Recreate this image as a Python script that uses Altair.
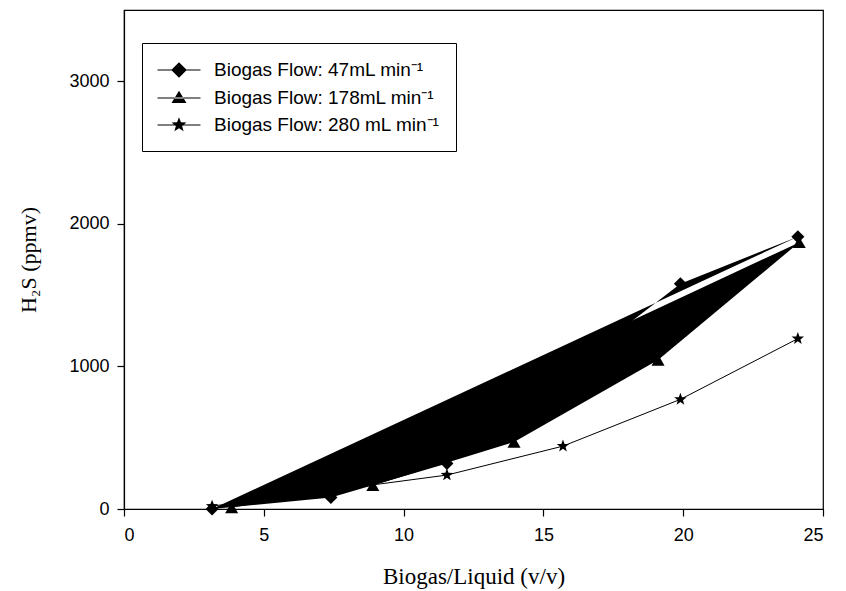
import math
import altair as alt
import pandas as pd

series_names = ["Biogas Flow: 47mL min⁻¹", "Biogas Flow: 178mL min⁻¹", "Biogas Flow: 280 mL min⁻¹"]
x_47 = [3.15, 7.4, 11.55, 19.9, 24.1]
y_47 = [0, 80, 320, 1580, 1910]
x_178 = [3.85, 8.9, 13.95, 19.1, 24.15]
y_178 = [10, 165, 470, 1045, 1870]
x_280 = [3.15, 11.55, 15.7, 19.9, 24.1]
y_280 = [20, 238, 441, 769, 1195]
x_ticks = [0, 5, 10, 15, 20, 25]
y_ticks = [0, 1000, 2000, 3000]

rows = []
for name, xs, ys in zip(series_names, [x_47, x_178, x_280], [y_47, y_178, y_280]):
    for i, (xv, yv) in enumerate(zip(xs, ys)):
        rows.append({"series": name, "x": xv, "y": yv, "idx": i})
df = pd.DataFrame(rows)


def star_path(r_out, r_in):
    pts = []
    for k in range(10):
        r = r_out if k % 2 == 0 else r_in
        a = -math.pi / 2 + k * math.pi / 5
        pts.append((r * math.cos(a), r * math.sin(a)))
    return "M" + "L".join(f"{px:.3f},{py:.3f}" for px, py in pts) + "Z"


star_shape = star_path(1.0, 0.42)
# legend glyph: a thin filled bar (the line) plus the marker
line_bar = "M-2.15,-0.055L2.15,-0.055L2.15,0.055L-2.15,0.055Z"
leg_diamond = line_bar + "M-0.78,0L0,-0.78L0.78,0L0,0.78Z"
leg_triangle = line_bar + "M-0.75,0.5L0.75,0.5L0,-0.72Z"
leg_star = line_bar + star_path(0.78, 0.33)

xscale = alt.Scale(domain=[0, 25], nice=False, zero=False)
yscale = alt.Scale(domain=[0, 3500], nice=False, zero=False)

xenc = alt.X("x:Q", scale=xscale,
             axis=alt.Axis(values=x_ticks, title="Biogas/Liquid (v/v)", titlePadding=21,
                           labelPadding=10, titleFontSize=23))
yenc = alt.Y("y:Q", scale=yscale,
             axis=alt.Axis(values=y_ticks, title="H₂S (ppmv)", titlePadding=28,
                           labelPadding=8, format="d", titleFontSize=22))

base = alt.Chart(df)

filled = base.transform_filter(
    alt.FieldOneOfPredicate(field="series", oneOf=series_names[:2])
).mark_line(filled=True, color="black", strokeWidth=1).encode(
    x=xenc, y=yenc, detail="series:N", order="idx:Q"
)

thin = base.transform_filter(
    alt.FieldEqualPredicate(field="series", equal=series_names[2])
).mark_line(stroke="black", strokeWidth=1).encode(
    x=xenc, y=yenc, order="idx:Q"
)

points = base.mark_point(filled=True, color="black", opacity=1, size=170).encode(
    x=xenc, y=yenc,
    shape=alt.Shape("series:N", scale=alt.Scale(domain=series_names,
                                                range=["diamond", "triangle-up", star_shape]),
                    legend=None),
)

legend_layer = base.mark_point(filled=True, fill="black", stroke="black", strokeWidth=1.2,
                               opacity=0, size=1).encode(
    x=xenc, y=yenc,
    shape=alt.Shape("series:N",
                    scale=alt.Scale(domain=series_names,
                                    range=[leg_diamond, leg_triangle, leg_star]),
                    legend=alt.Legend(title=None, orient="none", legendX=18, legendY=33,
                                      padding=16, symbolOffset=10, labelOffset=24,
                                      rowPadding=6,
                                      symbolSize=400, symbolOpacity=1,
                                      symbolFillColor="black", symbolStrokeColor="black",
                                      symbolStrokeWidth=1.2,
                                      labelFont="Liberation Sans", labelFontSize=19,
                                      labelColor="black", labelLimit=400,
                                      strokeColor="black", fillColor="white")),
)

chart = alt.layer(filled, thin, points, legend_layer).resolve_scale(
    shape="independent"
).properties(
    width=699, height=499,
    padding={"left": 17, "top": 10, "right": 5, "bottom": 5},
).configure_view(
    stroke="black", strokeWidth=1.2
).configure_axis(
    grid=False, domainColor="black", domainWidth=1.2, tickColor="black", tickSize=7,
    tickWidth=1.2,
    labelFont="Liberation Sans", labelFontSize=18, labelColor="black",
    titleFont="Liberation Serif", titleFontWeight="normal",
    titleColor="black",
)

chart.save("out.html", embed_options={"renderer": "svg", "actions": False})
